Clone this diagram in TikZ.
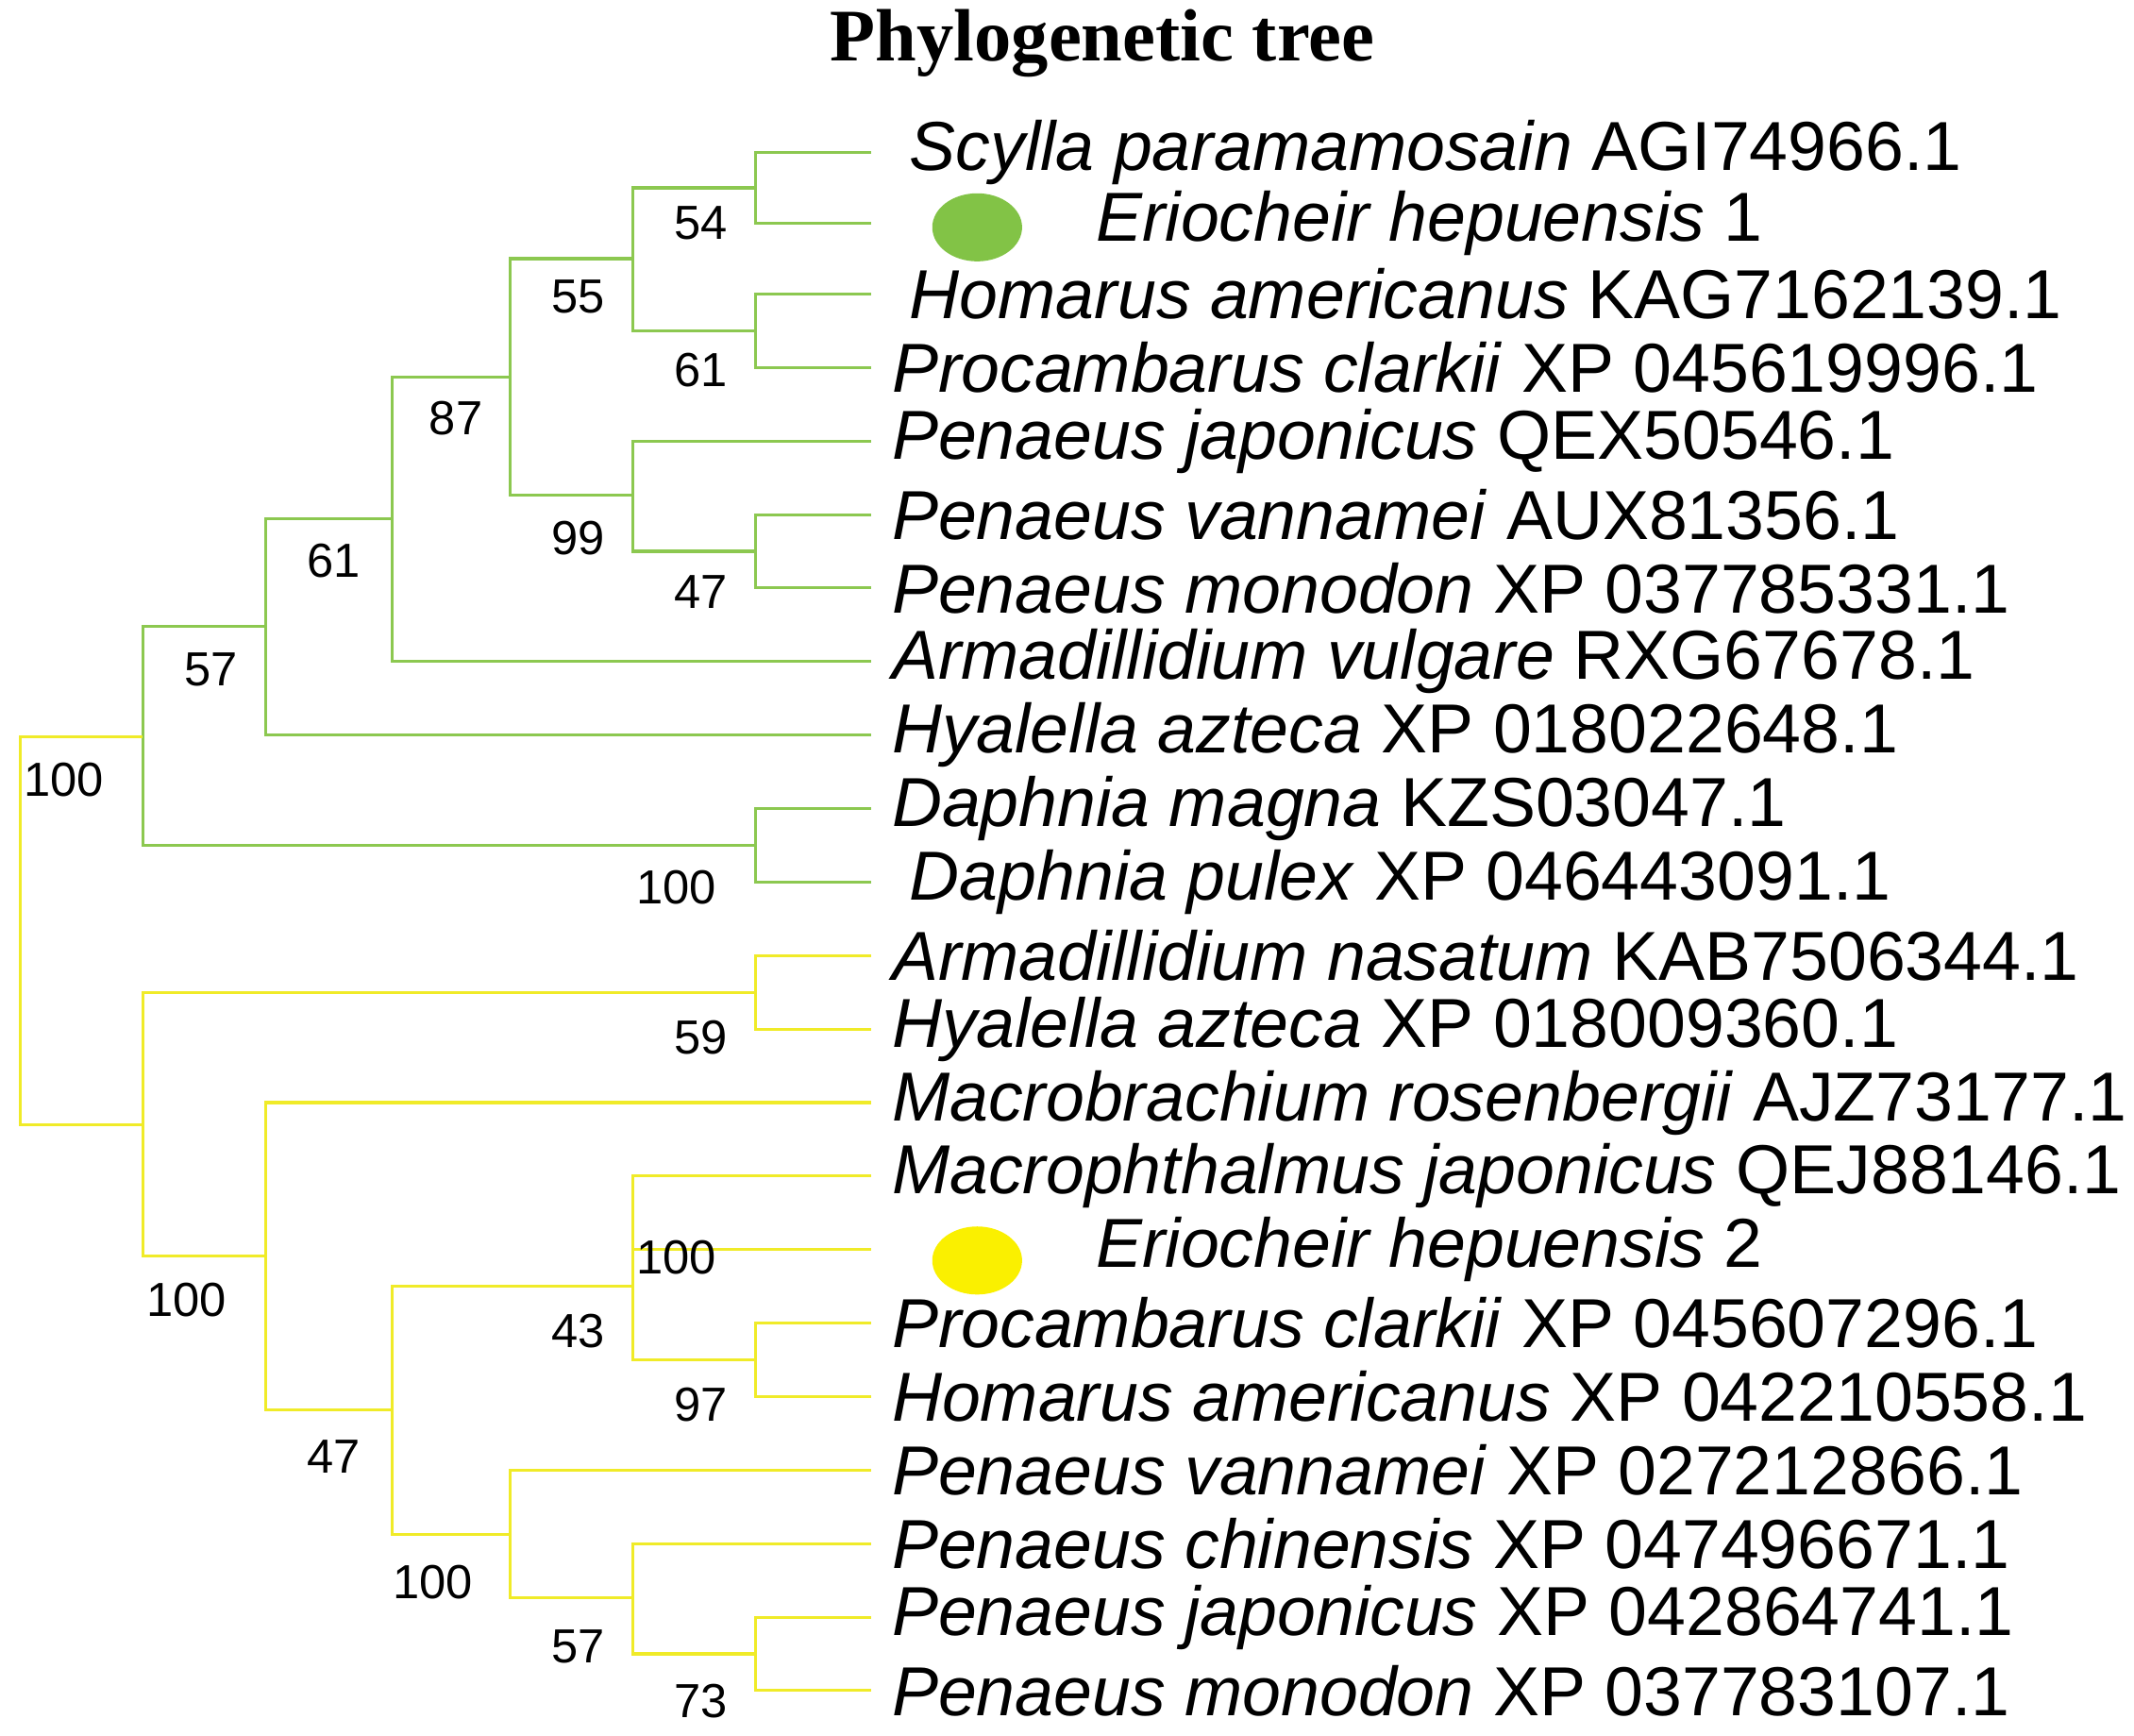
\documentclass[tikz,border=0pt]{standalone}
\usepackage{fontspec}
\setmainfont{Liberation Sans}
\newfontfamily\ttl{Liberation Serif}
\definecolor{gline}{RGB}{140,200,80}
\definecolor{yline}{RGB}{240,235,40}
\definecolor{gdot}{RGB}{130,195,70}
\definecolor{ydot}{RGB}{250,240,0}
\begin{document}
\begin{tikzpicture}[x=0.02cm,y=-0.02cm,
 g/.style={draw=gline,line width=1.2pt},
 yl/.style={draw=yline,line width=1.2pt},
 lf/.style={anchor=west,inner sep=0pt,font=\fontsize{29}{34}\selectfont},
 bs/.style={font=\fontsize{20}{24}\selectfont,inner sep=0pt}]
\useasboundingbox (0,0) rectangle (1568,1275);
\node[font=\ttl\bfseries\fontsize{31}{36}\selectfont] (title) at (810,32) {Phylogenetic tree};
\foreach \i/\y in {1/112,2/164,3/216,4/270,5/324,6/378,7/432,8/486,9/540,10/594,11/648,12/702,13/756,14/810,15/864,16/918,17/972,18/1026,19/1080,20/1134,21/1188,22/1242}
  \coordinate (l\i) at (640,\y);
\coordinate (A) at (555,138); \coordinate (B) at (555,243);
\coordinate (C) at (465,190); \coordinate (D) at (555,405);
\coordinate (E) at (465,364); \coordinate (F) at (375,277);
\coordinate (G) at (288,381); \coordinate (H) at (195,460);
\coordinate (I) at (555,621); \coordinate (J) at (105,541);
\coordinate (L) at (555,729); \coordinate (M) at (465,891);
\coordinate (N) at (555,999); \coordinate (O) at (465,945);
\coordinate (P) at (555,1215); \coordinate (Q) at (465,1174);
\coordinate (R) at (375,1127); \coordinate (S) at (288,1036);
\coordinate (T) at (195,923); \coordinate (U) at (105,826);
\coordinate (root) at (15,683);
\draw[g] (A) |- (l1); \draw[g] (A) |- (l2);
\draw[g] (B) |- (l3); \draw[g] (B) |- (l4);
\draw[g] (C) |- (A); \draw[g] (C) |- (B);
\draw[g] (D) |- (l6); \draw[g] (D) |- (l7);
\draw[g] (E) |- (l5); \draw[g] (E) |- (D);
\draw[g] (F) |- (C); \draw[g] (F) |- (E);
\draw[g] (G) |- (F); \draw[g] (G) |- (l8);
\draw[g] (H) |- (G); \draw[g] (H) |- (l9);
\draw[g] (I) |- (l10); \draw[g] (I) |- (l11);
\draw[g] (J) |- (H); \draw[g] (J) |- (I);
\draw[yl] (L) |- (l12); \draw[yl] (L) |- (l13);
\draw[yl] (M) |- (l15); \draw[yl] (M) |- (l16);
\draw[yl] (N) |- (l17); \draw[yl] (N) |- (l18);
\draw[yl] (O) |- (M); \draw[yl] (O) |- (N);
\draw[yl] (P) |- (l21); \draw[yl] (P) |- (l22);
\draw[yl] (Q) |- (l20); \draw[yl] (Q) |- (P);
\draw[yl] (R) |- (l19); \draw[yl] (R) |- (Q);
\draw[yl] (S) |- (O); \draw[yl] (S) |- (R);
\draw[yl] (T) |- (l14); \draw[yl] (T) |- (S);
\draw[yl] (U) |- (L); \draw[yl] (U) |- (T);
\draw[yl] (root) |- (J); \draw[yl] (root) |- (U);
\node[bs] (b1) at (515,164) {54};
\node[bs] (b2) at (515,272) {61};
\node[bs] (b3) at (425,218) {55};
\node[bs] (b4) at (515,435) {47};
\node[bs] (b5) at (425,395) {99};
\node[bs] (b6) at (335,307) {87};
\node[bs] (b7) at (245,412) {61};
\node[bs] (b8) at (155,492) {57};
\node[bs] (b9) at (497,652) {100};
\node[bs] (b10) at (47,573) {100};
\node[bs] (b11) at (515,762) {59};
\node[bs] (b12) at (497,924) {100};
\node[bs] (b13) at (515,1032) {97};
\node[bs] (b14) at (425,978) {43};
\node[bs] (b15) at (515,1250) {73};
\node[bs] (b16) at (425,1210) {57};
\node[bs] (b17) at (318,1162) {100};
\node[bs] (b18) at (245,1070) {47};
\node[bs] (b19) at (137,955) {100};
\fill[gdot] (718,167) ellipse (33 and 25);
\fill[ydot] (718,926) ellipse (33 and 25);
\node[lf] (t1) at (668,112) {\textit{Scylla paramamosain} AGI74966.1};
\node[lf] (t2) at (805,164) {\textit{Eriocheir hepuensis} 1};
\node[lf] (t3) at (668,216) {\textit{Homarus americanus} KAG7162139.1};
\node[lf] (t4) at (655,270) {\textit{Procambarus clarkii} XP 045619996.1};
\node[lf] (t5) at (655,324) {\textit{Penaeus japonicus} QEX50546.1};
\node[lf] (t6) at (655,378) {\textit{Penaeus vannamei} AUX81356.1};
\node[lf] (t7) at (655,432) {\textit{Penaeus monodon} XP 037785331.1};
\node[lf] (t8) at (655,486) {\textit{Armadillidium vulgare} RXG67678.1};
\node[lf] (t9) at (655,540) {\textit{Hyalella azteca} XP 018022648.1};
\node[lf] (t10) at (655,594) {\textit{Daphnia magna} KZS03047.1};
\node[lf] (t11) at (668,648) {\textit{Daphnia pulex} XP 046443091.1};
\node[lf] (t12) at (655,702) {\textit{Armadillidium nasatum} KAB7506344.1};
\node[lf] (t13) at (655,756) {\textit{Hyalella azteca} XP 018009360.1};
\node[lf] (t14) at (655,810) {\textit{Macrobrachium rosenbergii} AJZ73177.1};
\node[lf] (t15) at (655,864) {\textit{Macrophthalmus japonicus} QEJ88146.1};
\node[lf] (t16) at (805,918) {\textit{Eriocheir hepuensis} 2};
\node[lf] (t17) at (655,972) {\textit{Procambarus clarkii} XP 045607296.1};
\node[lf] (t18) at (655,1026) {\textit{Homarus americanus} XP 042210558.1};
\node[lf] (t19) at (655,1080) {\textit{Penaeus vannamei} XP 027212866.1};
\node[lf] (t20) at (655,1134) {\textit{Penaeus chinensis} XP 047496671.1};
\node[lf] (t21) at (655,1188) {\textit{Penaeus japonicus} XP 042864741.1};
\node[lf] (t22) at (655,1242) {\textit{Penaeus monodon} XP 037783107.1};
\end{tikzpicture}
\end{document}
